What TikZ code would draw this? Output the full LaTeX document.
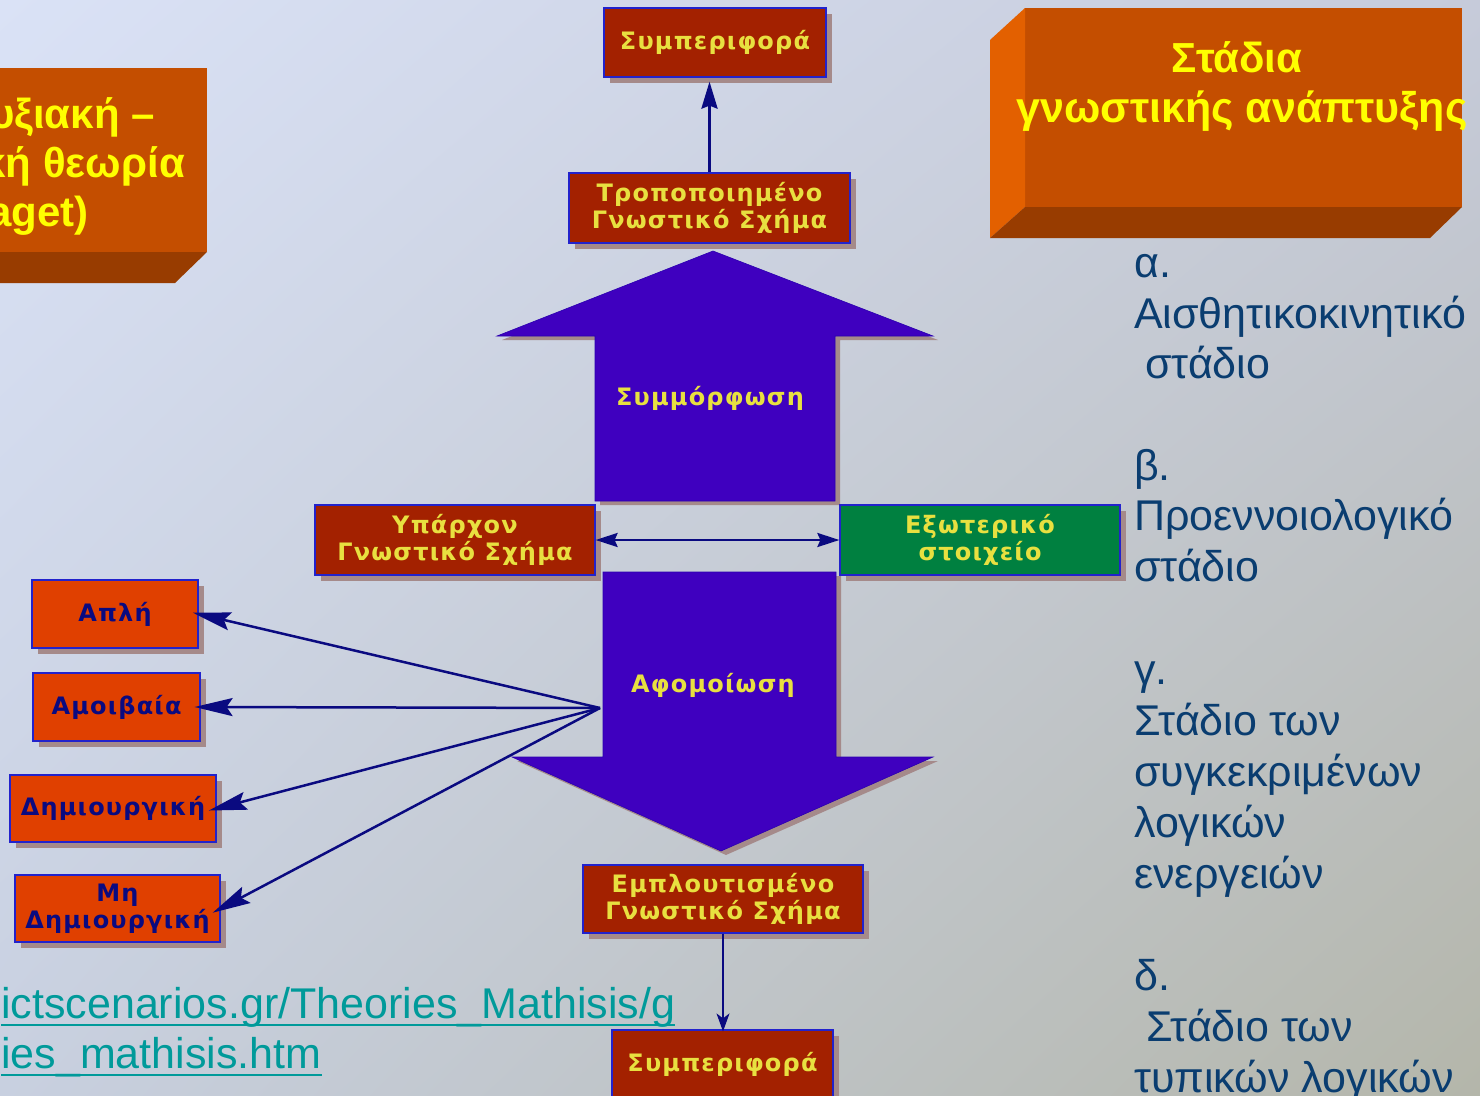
\documentclass[tikz,border=0pt]{standalone}
\usepackage{fontspec}
\setmainfont{Liberation Sans}
\newfontfamily\boxfont{DejaVu Sans}[LetterSpace=5]
\usetikzlibrary{arrows.meta,shadows,shadings,positioning}

\definecolor{bgtl}{HTML}{DAE2F6}
\definecolor{bgtr}{HTML}{C6CBDA}
\definecolor{bgbl}{HTML}{C8D0E0}
\definecolor{bgbr}{HTML}{B4B6AA}
\definecolor{boxred}{HTML}{A32100}
\definecolor{boxblue}{HTML}{2222CC}
\definecolor{boxyel}{HTML}{E8E040}
\definecolor{boxorange}{HTML}{E04000}
\definecolor{boxgreen}{HTML}{008040}
\definecolor{shadowc}{HTML}{A58A8A}
\definecolor{navy}{HTML}{0A0A80}
\definecolor{arrowblue}{HTML}{3F00BF}
\definecolor{arrowedge}{HTML}{2A00B0}
\definecolor{cubefront}{HTML}{C44E00}
\definecolor{cubeside}{HTML}{E36000}
\definecolor{cubebottom}{HTML}{983C00}
\definecolor{titleyel}{HTML}{FFFF00}
\definecolor{stagec}{HTML}{0A3D70}
\definecolor{linkc}{HTML}{009A9A}

\tikzset{
  cbox/.style={fill=boxred, draw=boxblue, line width=1.2pt, text=boxyel,
    font=\boxfont\bfseries\fontsize{24}{27}\selectfont, align=center, inner sep=0pt,
    drop shadow={shadow xshift=6pt, shadow yshift=-6pt, fill=shadowc, opacity=1}},
  obox/.style={cbox, fill=boxorange, text=navy},
  gbox/.style={cbox, fill=boxgreen},
  bigarrow/.style={fill=arrowblue, draw=arrowedge, line width=0.6pt},
  arrowtext/.style={text=boxyel, font=\boxfont\bfseries\fontsize{24}{27}\selectfont, inner sep=0pt},
  title/.style={text=titleyel, font=\bfseries\fontsize{42}{50}\selectfont, inner sep=0pt},
  stage/.style={text=stagec, font=\fontsize{43}{51}\selectfont, inner sep=0pt},
  url/.style={text=linkc, font=\fontsize{43}{50}\selectfont, inner sep=0pt},
  conn/.style={navy, line width=2.5pt, -{Stealth[length=38pt, width=18pt, inset=6pt]}},
}

\begin{document}
\begin{tikzpicture}[x=1pt, y=-1pt]
\useasboundingbox (0,0) rectangle (1480,1095);
% background
\shade[upper left=bgtl, upper right=bgtr, lower left=bgbl, lower right=bgbr] (0,0) rectangle (1480,1095);

% 3d title boxes
\fill[cubefront] (-10,68) rectangle (207,252);
\fill[cubebottom] (-10,252) -- (207,252) -- (175,283) -- (-10,283) -- cycle;
\fill[cubefront] (1025,8) rectangle (1462,207);
\fill[cubeside] (990,40) -- (1025,8) -- (1025,207) -- (990,238) -- cycle;
\fill[cubebottom] (990,238) -- (1025,207) -- (1462,207) -- (1430,238) -- cycle;

\node[title, anchor=base east] (ttl1) at (155,128) {υξιακή –};
\node[title, anchor=base east] (ttl2) at (185,177) {κή θεωρία};
\node[title, anchor=base east] (ttl3) at (89,226) {aget)};
\node[title, anchor=base] (ttr1) at (1237,72) {Στάδια};
\node[title, font=\bfseries\fontsize{43}{50}\selectfont, anchor=base] (ttr2) at (1242,122) {γνωστικής ανάπτυξης};

% big arrows
\fill[shadowc] (718,255) -- (938,340) -- (840,340) -- (840,505) -- (600,505) -- (600,340) -- (502,340) -- cycle;
\path[bigarrow] (713,251) -- (933,336) -- (835,336) -- (835,501) -- (595,501) -- (595,336) -- (497,336) -- cycle;
\fill[shadowc] (608,576) -- (841,576) -- (841,761) -- (938,761) -- (726,855) -- (517,761) -- (608,761) -- cycle;
\path[bigarrow] (603,572) -- (836,572) -- (836,757) -- (933,757) -- (721,851) -- (512,757) -- (603,757) -- cycle;
\node[arrowtext] (symm) at (710,398) {Συμμόρφωση};
\node[arrowtext] (afom) at (713,685) {Αφομοίωση};

% centre column
\node[cbox, minimum width=222pt, minimum height=69pt] (beha) at (715,42.5) {Συμπεριφορά};
\node[cbox, minimum width=281pt, minimum height=70pt] (tgs) at (709.5,208) {Τροποποιημένο\\Γνωστικό Σχήμα};
\node[cbox, minimum width=280pt, minimum height=70pt] (yparxon) at (455,540) {Υπάρχον\\Γνωστικό Σχήμα};
\node[gbox, minimum width=280pt, minimum height=70pt] (ekso) at (980,540) {Εξωτερικό\\στοιχείο};
\node[cbox, minimum width=280pt, minimum height=68pt] (empl) at (723,899) {Εμπλουτισμένο\\Γνωστικό Σχήμα};
\node[cbox, minimum width=221pt, minimum height=69pt] (behb) at (722.5,1064.5) {Συμπεριφορά};

% left boxes
\node[obox, minimum width=166pt, minimum height=68pt] (apli) at (115,614) {Απλή};
\node[obox, minimum width=167pt, minimum height=68pt] (amoib) at (116.5,707) {Αμοιβαία};
\node[obox, minimum width=206pt, minimum height=67pt] (dimiourg) at (113,808.5) {Δημιουργική};
\node[obox, minimum width=205pt, minimum height=67pt] (mhdim) at (117.5,908.5) {Μη\\Δημιουργική};
\coordinate (hub) at (600,708);

% connectors
\draw[navy, line width=3pt, -{Stealth[length=27pt, width=16pt, inset=3pt]}] (tgs.north) -- ([yshift=-4pt]tgs.north |- beha.south);
\draw[navy, line width=2.5pt, {Stealth[length=22pt, width=14pt, inset=3pt]}-{Stealth[length=22pt, width=14pt, inset=3pt]}] (yparxon.east) -- (ekso.west);
\draw[conn, shorten >=-6pt] (hub) -- (apli.east);
\draw[conn, shorten >=-6pt] (hub) -- (amoib.east);
\draw[conn, shorten >=-8pt] (hub) -- (dimiourg.east);
\draw[conn, shorten >=-9pt] (hub) -- (mhdim.east);
\draw[navy, line width=1.2pt, -{Stealth[length=18pt, width=13pt, inset=5pt]}] (empl.south) -- ([yshift=-2pt]empl.south |- behb.north);

% stages
\foreach \yy/\txt [count=\i] in {277/α., 328/Αισθητικοκινητικό, 378/\hspace{11pt}στάδιο,
    480/β., 530/Προεννοιολογικό, 581/στάδιο,
    684/γ., 735/Στάδιο των, 786/συγκεκριμένων, 837/λογικών, 888/ενεργειών,
    990/δ., 1041/\hspace{12pt}Στάδιο των, 1092/τυπικών λογικών}
  \node[stage, anchor=base west] (stage\i) at (1134,\yy) {\txt};

% link
\node[url, anchor=base west] (url1) at (1,1018) {ictscenarios.gr/Theories\_Mathisis/g};
\node[url, anchor=base west] (url2) at (1,1068) {ies\_mathisis.htm};
\draw[linkc, line width=2.5pt] ([yshift=-7pt]url1.base west) -- ([yshift=-7pt]url1.base east);
\draw[linkc, line width=2.5pt] ([yshift=-7pt]url2.base west) -- ([yshift=-7pt]url2.base east);
\end{tikzpicture}
\end{document}
